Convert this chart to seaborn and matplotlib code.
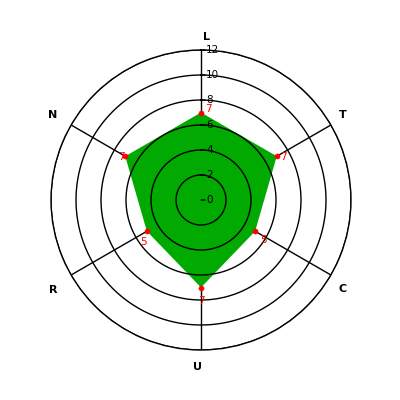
import numpy as np
import matplotlib
matplotlib.use("Agg")
import matplotlib.pyplot as plt
import seaborn as sns
import pandas as pd

categories = ["L", "T", "C", "U", "R", "N"]
values = [7, 7, 5, 7, 5, 7]
ticks = [0, 2, 4, 6, 8, 10, 12]

# styling offsets (pixels): value labels and category labels
value_label_offsets = [(7, 3), (7, -1), (8, -9), (0, -14), (-3, -11), (-4, -1)]
cat_label_offsets = [(6, -2), (-1, 2), (-1, -7), (-3, -2), (-5, -7), (-5, 2)]

sns.set_style("white")
plt.rcParams['font.family'] = ['DejaVu Sans']

fig = plt.figure(figsize=(4, 4), dpi=100)
ax = fig.add_axes([0.1275, 0.125, 0.75, 0.75], projection='polar')
ax.set_theta_offset(np.pi / 2)
ax.set_theta_direction(-1)
ax.set_ylim(0, 12)
ax.grid(False)
ax.set_xticks([])
ax.set_yticks([])
ax.spines['polar'].set_color('black')
ax.spines['polar'].set_linewidth(1)

n = len(categories)
angles = np.arange(n) * 2 * np.pi / n
df = pd.DataFrame({"angle": angles, "value": values, "cat": categories})

# spokes (under the fill)
for a in angles:
    ax.plot([a, a], [0, max(ticks)], color="black", lw=1, zorder=0.5)

# filled polygon
ax.fill(np.append(angles, angles[0]), np.append(values, values[0]),
        color="#00aa00", lw=0, zorder=1)

# circles (over the fill)
th = np.linspace(0, 2 * np.pi, 721)
for r in ticks[1:]:
    ax.plot(th, np.full_like(th, r), color="black", lw=1, zorder=2)

# radial tick marks & labels on L axis
for t in ticks:
    ax.annotate("", xy=(0, t), xytext=(4, 0), textcoords="offset pixels",
                arrowprops=dict(arrowstyle="-", color="black", lw=1,
                                shrinkA=0, shrinkB=0), zorder=3)
    ax.annotate(str(t), xy=(0, t), xytext=(5, 0), textcoords="offset pixels",
                ha="left", va="center", fontsize=7.5, color="black", zorder=3)

# markers
sns.scatterplot(data=df, x="angle", y="value", ax=ax, color="red",
                edgecolor="red", s=14, marker="o", zorder=4, legend=False)
ax.set_xlabel("")
ax.set_ylabel("")
ax.set_ylim(0, 12)

# value labels
for a, v, off in zip(angles, values, value_label_offsets):
    ax.annotate(str(v), xy=(a, v), xytext=off, textcoords="offset pixels",
                ha="center", va="center", fontsize=7.5, color="red", zorder=2)

# category labels
for a, c, off in zip(angles, categories, cat_label_offsets):
    ax.annotate(c, xy=(a, 13.2), xytext=off, textcoords="offset pixels",
                ha="center", va="center", fontsize=8, fontweight="bold",
                color="black", annotation_clip=False)

fig.savefig("out.png", dpi=100)
